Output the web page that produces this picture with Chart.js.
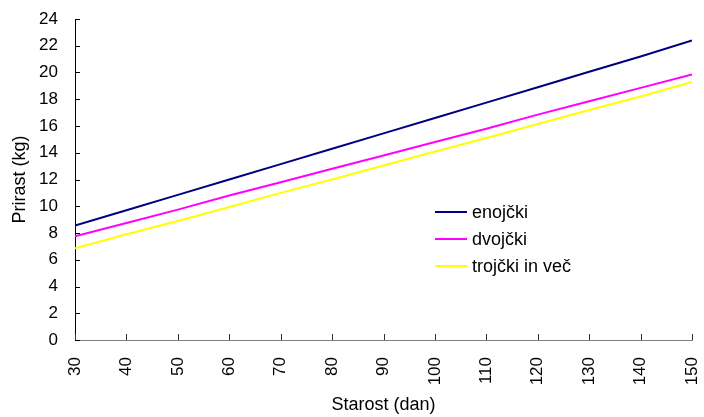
<!DOCTYPE html>
<html>
<head>
<meta charset="utf-8">
<script src="https://cdn.jsdelivr.net/npm/chart.js@4/dist/chart.umd.min.js"></script>
<style>
  html, body { margin: 0; padding: 0; background: #ffffff; }
  #wrap { width: 704px; height: 417px; }
</style>
</head>
<body>
<div id="wrap"><canvas id="c" width="704" height="417"></canvas></div>
<script>
// Starost (dan) – every 10 days
const ages = [30, 40, 50, 60, 70, 80, 90, 100, 110, 120, 130, 140, 150];
// Prirast (kg)
const enojcki = [8.55, 9.7, 10.85, 12.0, 13.15, 14.3, 15.45, 16.6, 17.75, 18.9, 20.05, 21.2, 22.4];
const dvojcki = [7.75, 8.75, 9.75, 10.8, 11.8, 12.8, 13.8, 14.8, 15.8, 16.85, 17.85, 18.85, 19.85];
const trojcki = [6.85, 7.9, 8.9, 9.95, 11.0, 12.0, 13.05, 14.1, 15.1, 16.15, 17.2, 18.2, 19.3];
const seriesNames = ['enojčki', 'dvojčki', 'trojčki in več'];
const seriesColors = ['#000080', '#ff00ff', '#ffff00'];

const FONT = 'Arial, "Liberation Sans", sans-serif';

function pts(values) {
  return ages.map((a, i) => ({ x: a, y: values[i] }));
}

// small tick marks pointing into the plot
const innerTicks = {
  id: 'innerTicks',
  afterDatasetsDraw(chart) {
    const { ctx, chartArea, scales } = chart;
    ctx.save();
    ctx.lineWidth = 1;
    ctx.strokeStyle = '#333333';
    scales.x.ticks.forEach(t => {
      const px = Math.round(scales.x.getPixelForValue(t.value)) + 0.5;
      ctx.beginPath();
      ctx.moveTo(px, chartArea.bottom);
      ctx.lineTo(px, chartArea.bottom - 6);
      ctx.stroke();
    });
    ctx.strokeStyle = '#000000';
    scales.y.ticks.forEach(t => {
      const py = Math.round(scales.y.getPixelForValue(t.value)) + 0.5;
      ctx.beginPath();
      ctx.moveTo(chartArea.left, py);
      ctx.lineTo(chartArea.left + 5, py);
      ctx.stroke();
    });
    ctx.restore();
  }
};

// legend drawn inside the plot area
const innerLegend = {
  id: 'innerLegend',
  afterDraw(chart, args, opts) {
    const { ctx } = chart;
    ctx.save();
    ctx.font = '18px ' + FONT;
    ctx.textBaseline = 'middle';
    ctx.textAlign = 'left';
    chart.data.datasets.forEach((ds, i) => {
      const y = opts.y + i * opts.spacing;
      ctx.strokeStyle = ds.borderColor;
      ctx.lineWidth = 2;
      ctx.beginPath();
      ctx.moveTo(opts.x, y);
      ctx.lineTo(opts.x + opts.lineLen, y);
      ctx.stroke();
      ctx.fillStyle = '#000000';
      ctx.fillText(ds.label, opts.x + opts.lineLen + 5, y + 1);
    });
    ctx.restore();
  }
};

function zeroPadding(scale) {
  scale.paddingLeft = 0;
  scale.paddingRight = 0;
  scale.paddingTop = 0;
  scale.paddingBottom = 0;
}

new Chart(document.getElementById('c'), {
  type: 'line',
  data: {
    datasets: [enojcki, dvojcki, trojcki].map((v, i) => ({
      label: seriesNames[i],
      data: pts(v),
      borderColor: seriesColors[i],
      backgroundColor: seriesColors[i],
      borderWidth: 2,
      pointRadius: 0,
      tension: 0,
      fill: false
    }))
  },
  options: {
    responsive: false,
    animation: false,
    devicePixelRatio: 1,
    layout: { padding: { left: 0, right: 12, top: 19, bottom: 0 } },
    plugins: {
      legend: { display: false },
      tooltip: { enabled: false },
      innerLegend: { x: 435, y: 212, spacing: 27, lineLen: 32 }
    },
    scales: {
      x: {
        type: 'linear',
        min: 30,
        max: 150,
        afterFit(scale) { scale.height = 77; zeroPadding(scale); },
        ticks: {
          stepSize: 10,
          minRotation: 90,
          maxRotation: 90,
          padding: 17,
          color: '#000000',
          font: { family: FONT, size: 17 }
        },
        grid: { display: true, drawOnChartArea: false, drawTicks: false },
        border: { display: true, color: '#808080', width: 1 },
        title: {
          display: true,
          text: 'Starost (dan)',
          color: '#000000',
          font: { family: FONT, size: 18 },
          padding: { top: 0, bottom: 1 }
        }
      },
      y: {
        min: 0,
        max: 24,
        afterFit(scale) { scale.width = 75; zeroPadding(scale); },
        ticks: {
          stepSize: 2,
          padding: 17,
          color: '#000000',
          font: { family: FONT, size: 17 }
        },
        grid: { display: true, drawOnChartArea: false, drawTicks: false },
        border: { display: true, color: '#000000', width: 1 },
        title: {
          display: true,
          text: 'Prirast (kg)',
          color: '#000000',
          font: { family: FONT, size: 18 },
          padding: { top: 9, bottom: 0 }
        }
      }
    }
  },
  plugins: [innerTicks, innerLegend]
});
</script>
</body>
</html>
